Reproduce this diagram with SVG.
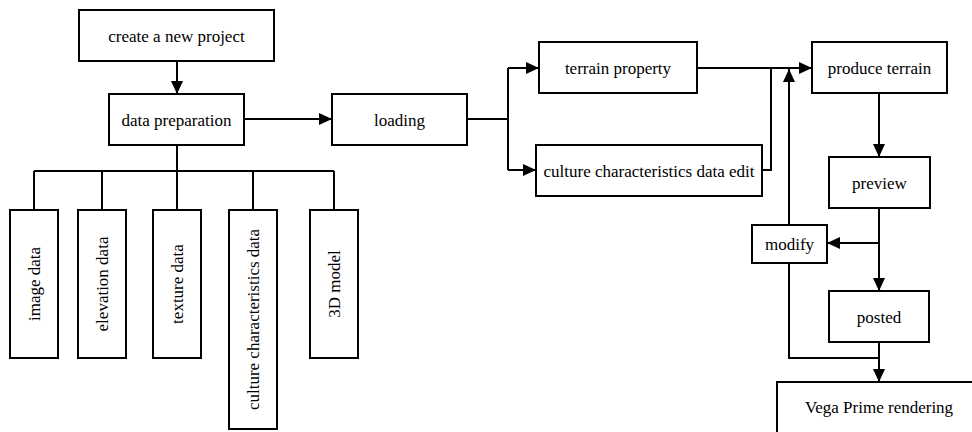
<svg xmlns="http://www.w3.org/2000/svg" width="972" height="432" viewBox="0 0 972 432">
<style>
.box{fill:#fff;stroke:#000;stroke-width:2}
.lbl{font-family:"Liberation Serif","Times New Roman",serif;font-size:17px;fill:#000;text-anchor:middle}
.ln{fill:none;stroke:#000;stroke-width:2}
.arr{marker-end:url(#ah)}
</style>
<defs>
<marker id="ah" markerUnits="userSpaceOnUse" markerWidth="13" markerHeight="12" refX="13" refY="6" orient="auto">
<path d="M0,0 L13,6 L0,12 z" fill="#000"/>
</marker>
</defs>
<rect width="972" height="432" fill="#fff"/>
<g id="connectors">
<path class="ln arr" d="M177,61 V94"/>
<path class="ln arr" d="M244,119 H332"/>
<path class="ln" d="M177,145 V171 M34,171 H334 M34,171 V210 M102,171 V210 M177,171 V210 M253,171 V210 M334,171 V210"/>
<path class="ln" d="M467,119 H508 M508,68 V170"/>
<path class="ln arr" d="M508,68 H539"/>
<path class="ln arr" d="M508,170 H536"/>
<path class="ln arr" d="M697,68 H812"/>
<path class="ln" d="M762,170 H771 V68"/>
<path class="ln arr" d="M789,225 V69"/>
<path class="ln arr" d="M879,93 V157"/>
<path class="ln arr" d="M879,208 V291"/>
<path class="ln arr" d="M879,243 H827"/>
<path class="ln arr" d="M879,342 V382"/>
<path class="ln" d="M789,263 V358 H879"/>
</g>
<g id="create"><rect class="box" x="79" y="10" width="195" height="51"/><text class="lbl" x="176.5" y="41.5">create a new project</text></g>
<g id="dataprep"><rect class="box" x="109" y="94" width="135" height="51"/><text class="lbl" x="176.5" y="125.5">data preparation</text></g>
<g id="image"><rect class="box" x="10" y="210" width="48" height="148"/><text class="lbl" transform="translate(34,284) rotate(-90)" y="6">image data</text></g>
<g id="elevation"><rect class="box" x="78" y="210" width="48" height="148"/><text class="lbl" transform="translate(102,284) rotate(-90)" y="6">elevation data</text></g>
<g id="texture"><rect class="box" x="153" y="210" width="48" height="148"/><text class="lbl" transform="translate(177,284) rotate(-90)" y="6">texture data</text></g>
<g id="culture"><rect class="box" x="229" y="210" width="48" height="219"/><text class="lbl" transform="translate(253,319.5) rotate(-90)" y="6">culture characteristics data</text></g>
<g id="model"><rect class="box" x="310" y="210" width="48" height="148"/><text class="lbl" transform="translate(334,284) rotate(-90)" y="6">3D model</text></g>
<g id="loading"><rect class="box" x="332" y="94" width="135" height="51"/><text class="lbl" x="399.5" y="125.5">loading</text></g>
<g id="terrainprop"><rect class="box" x="539" y="42" width="158" height="51"/><text class="lbl" x="618" y="73.5">terrain property</text></g>
<g id="cultureedit"><rect class="box" x="536" y="145" width="226" height="51"/><text class="lbl" x="649" y="176.5">culture characteristics data edit</text></g>
<g id="produce"><rect class="box" x="812" y="42" width="135" height="51"/><text class="lbl" x="879.5" y="73.5">produce terrain</text></g>
<g id="preview"><rect class="box" x="829" y="157" width="101" height="51"/><text class="lbl" x="879.5" y="188.5">preview</text></g>
<g id="modify"><rect class="box" x="752" y="225" width="75" height="38"/><text class="lbl" x="789.5" y="249.5">modify</text></g>
<g id="posted"><rect class="box" x="829" y="291" width="100" height="51"/><text class="lbl" x="879" y="322.5">posted</text></g>
<g id="vega"><rect class="box" x="777" y="382" width="220" height="70"/><text class="lbl" x="879" y="413">Vega Prime rendering</text></g>
</svg>
